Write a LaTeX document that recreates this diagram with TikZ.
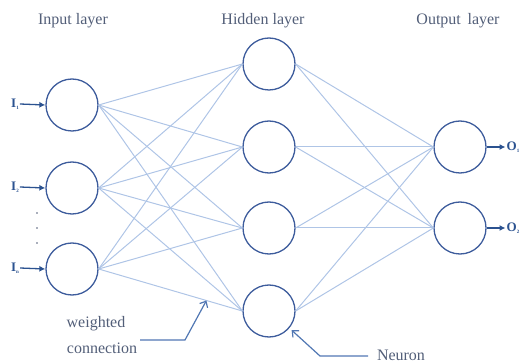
\documentclass[tikz,border=0pt]{standalone}
\usepackage{fontspec}
\setmainfont{Liberation Serif}
\usetikzlibrary{arrows.meta}
\definecolor{ring}{HTML}{3D5C9C}
\definecolor{wirec}{HTML}{AFC5E6}
\definecolor{labeltext}{HTML}{525E78}
\definecolor{arrowblue}{HTML}{2B5290}
\definecolor{callout}{HTML}{5177B3}
\begin{document}
\begin{tikzpicture}[x=1pt,y=-1pt,
  neuron/.style={circle,draw=ring,line width=1.3pt,minimum size=52pt,inner sep=0pt},
  wire/.style={draw=wirec,line width=1pt},
  title/.style={text=labeltext,font=\fontsize{16}{18}\selectfont,inner sep=0pt},
  iolabel/.style={text=arrowblue,font=\fontsize{13}{14}\selectfont\bfseries,inner sep=1pt},
  ioarrow/.style={draw=arrowblue,line width=1.3pt,-{Latex[length=6pt,width=6pt]}},
  calloutline/.style={draw=callout,line width=1.2pt,-{Straight Barb[length=5pt,width=9pt]}},
  dotmark/.style={circle,fill=labeltext,inner sep=0pt,minimum size=1.8pt}]
\useasboundingbox (0,0) rectangle (527,363);

% titles
\node[title] (t1) at (73,21) {Input layer};
\node[title] (t2) at (263,21) {Hidden layer};
\node[title] (t3) at (458,21) {Output\, layer};

% neurons
\node[neuron] (i1) at (72,105) {};
\node[neuron] (i2) at (72,188) {};
\node[neuron] (i3) at (72,269) {};
\node[neuron] (h1) at (269,64) {};
\node[neuron] (h2) at (269,147) {};
\node[neuron] (h3) at (269,228) {};
\node[neuron] (h4) at (269,311) {};
\node[neuron] (o1) at (460,147) {};
\node[neuron] (o2) at (460,228) {};

% weighted connections
\foreach \a in {i1,i2,i3}{
  \foreach \b in {h1,h2,h3,h4}{
    \draw[wire] (\a.east) -- (\b.west);
  }
}
\foreach \a in {h1,h2,h3,h4}{
  \foreach \b in {o1,o2}{
    \draw[wire] (\a.east) -- (\b.west);
  }
}

% inputs
\node[iolabel] (l1) at (15,104) {I\raisebox{-2pt}{\fontsize{5}{5}\selectfont 1}};
\node[iolabel] (l2) at (15,187) {I\raisebox{-2pt}{\fontsize{5}{5}\selectfont 2}};
\node[iolabel] (l3) at (15,268) {I\raisebox{-2pt}{\fontsize{5}{5}\selectfont n}};
\draw[ioarrow] (l1.east) -- (i1.west);
\draw[ioarrow] (l2.east) -- (i2.west);
\draw[ioarrow] (l3.east) -- (i3.west);

\node[dotmark] (d1) at (37,213) {};
\node[dotmark] (d2) at (37,228) {};
\node[dotmark] (d3) at (37,243) {};

% outputs
\node[iolabel] (q1) at (513,147) {O\raisebox{-2pt}{\fontsize{5}{5}\selectfont 1}};
\node[iolabel] (q2) at (513,228) {O\raisebox{-2pt}{\fontsize{5}{5}\selectfont 2}};
\draw[ioarrow] (o1.east) -- (q1.west);
\draw[ioarrow] (o2.east) -- (q2.west);

% callouts
\node[title] (w1) at (96,324) {weighted};
\node[title] (w2) at (102,348) {connection};
\coordinate (wc) at (140,340);
\path (i3.east) -- (h4.west) coordinate[pos=0.75] (wt);
\draw[calloutline] (wc) -- (185,340) -- (wt);

\node[title] (nl) at (401,355) {Neuron};
\coordinate (nc) at (368,356);
\draw[calloutline,shorten >=3pt] (nc) -- (320,356) -- (h4.-40);
\end{tikzpicture}
\end{document}
